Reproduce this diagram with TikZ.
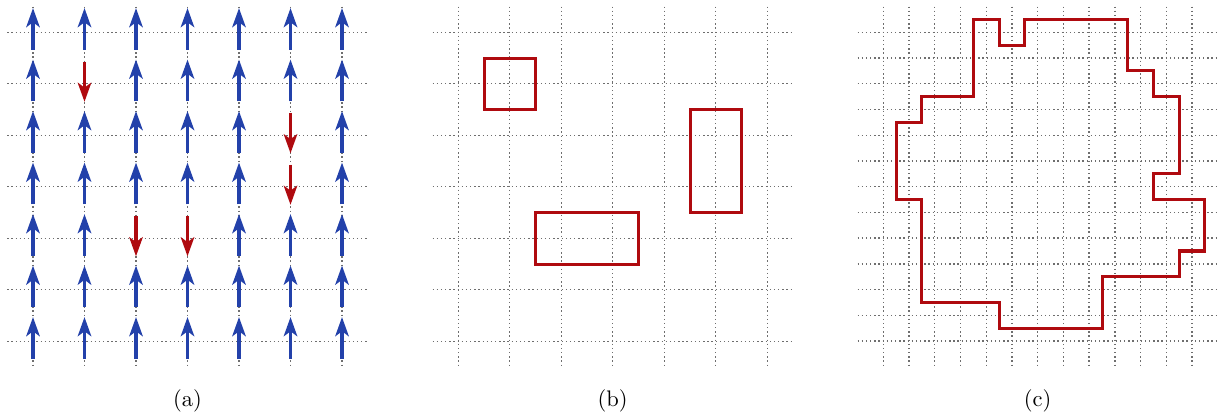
\documentclass[tikz,border=0pt]{standalone}
\usetikzlibrary{arrows.meta}
\definecolor{arrblue}{RGB}{35,65,170}
\definecolor{arrred}{RGB}{175,10,15}
\definecolor{gridgray}{RGB}{110,110,110}
\tikzset{
  gridline/.style={gridgray, line width=0.6pt, dash pattern=on 0.6pt off 1.25pt},
  spinup/.style={arrblue, line width=1.35pt, -{Stealth[length=8.5pt,width=6pt,inset=2.2pt]}},
  spindown/.style={arrred, line width=1.35pt, -{Stealth[length=8.5pt,width=6pt,inset=2.2pt]}},
  region/.style={arrred, line width=1.35pt},
  sublabel/.style={inner sep=0pt, font=\normalsize}
}
\begin{document}
\begin{tikzpicture}[x=0.4444pt,y=-0.4444pt]
\useasboundingbox (0,0) rectangle (1217,414);
% ---------- panel (a)
\begin{scope}[shift={(33,32.3)}, x=22.887pt, y=-22.887pt]
  \foreach \i in {0,...,6} {
    \draw[gridline] (\i,-0.5) -- (\i,6.5);
    \draw[gridline] (-0.5,\i) -- (6.5,\i);
  }
  \foreach \i in {0,...,6} {
    \foreach \j in {0,...,6} {
      \pgfmathtruncatemacro\cc{\i*10+\j}
      \pgfmathtruncatemacro\isred{(\cc==11)||(\cc==52)||(\cc==53)||(\cc==24)||(\cc==34)}
      \ifnum\isred=1
        \draw[spindown] (\i,\j-0.43) -- (\i,\j+0.35);
      \else
        \draw[spinup] (\i,\j+0.34) -- (\i,\j-0.47);
      \fi
    }
  }
\end{scope}
% ---------- panel (b)
\begin{scope}[shift={(458.3,32.3)}, x=22.887pt, y=-22.887pt]
  \foreach \i in {0,...,6} {
    \draw[gridline] (\i,-0.5) -- (\i,6.5);
    \draw[gridline] (-0.5,\i) -- (6.5,\i);
  }
  \draw[region] (0.5,0.5) rectangle (1.5,1.5);
  \draw[region] (1.5,3.5) rectangle (3.5,4.5);
  \draw[region] (4.5,1.5) rectangle (5.5,3.5);
\end{scope}
% ---------- panel (c)
\begin{scope}[shift={(883.3,32.3)}, x=11.435pt, y=-11.435pt]
  \foreach \i in {0,...,12} {
    \draw[gridline] (\i,-1) -- (\i,13);
    \draw[gridline] (-1,\i) -- (13,\i);
  }
  \draw[region] (0.5,3.5) -- (1.5,3.5) -- (1.5,2.5) -- (3.5,2.5) -- (3.5,-0.5)
    -- (4.5,-0.5) -- (4.5,0.5) -- (5.5,0.5) -- (5.5,-0.5) -- (9.5,-0.5)
    -- (9.5,1.5) -- (10.5,1.5) -- (10.5,2.5) -- (11.5,2.5) -- (11.5,5.5)
    -- (10.5,5.5) -- (10.5,6.5) -- (12.5,6.5) -- (12.5,8.5) -- (11.5,8.5)
    -- (11.5,9.5) -- (8.5,9.5) -- (8.5,11.5) -- (4.5,11.5) -- (4.5,10.5)
    -- (1.5,10.5) -- (1.5,6.5) -- (0.5,6.5) -- cycle;
\end{scope}
% ---------- labels
\node[sublabel] (la) at (187.5,401) {(a)};
\node[sublabel] (lb) at (612.5,401) {(b)};
\node[sublabel] (lc) at (1037.5,401) {(c)};
\end{tikzpicture}
\end{document}
